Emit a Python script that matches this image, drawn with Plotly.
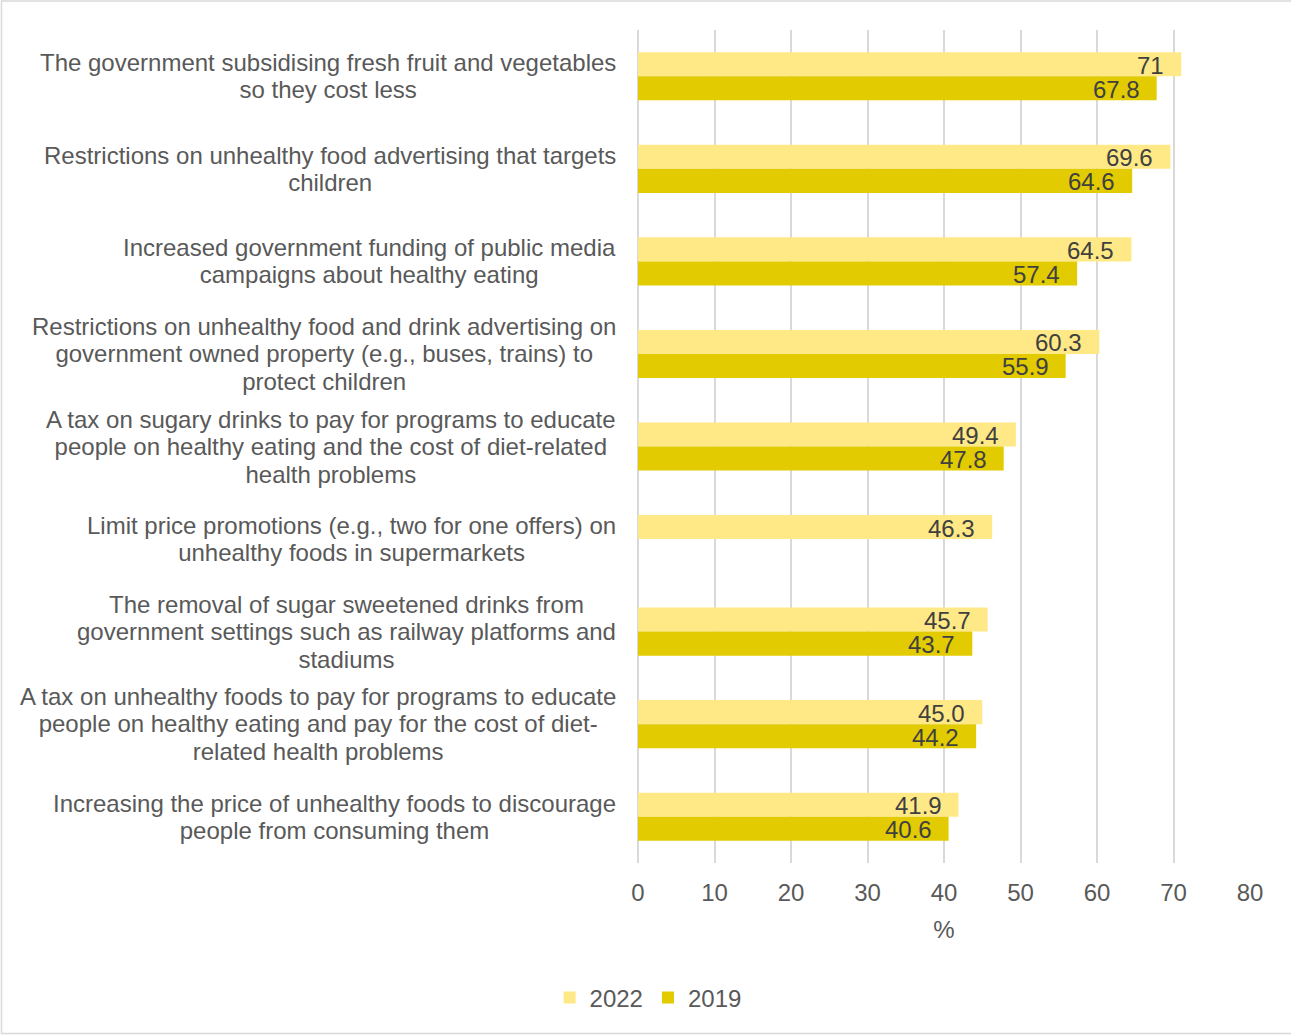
import plotly.graph_objects as go

# Policy statements (top to bottom) and their display versions split into lines
categories = [
    "The government subsidising fresh fruit and vegetables so they cost less",
    "Restrictions on unhealthy food advertising that targets children",
    "Increased government funding of public media campaigns about healthy eating",
    "Restrictions on unhealthy food and drink advertising on government owned property (e.g., buses, trains) to protect children",
    "A tax on sugary drinks to pay for programs to educate people on healthy eating and the cost of diet-related health problems",
    "Limit price promotions (e.g., two for one offers) on unhealthy foods in supermarkets",
    "The removal of sugar sweetened drinks from government settings such as railway platforms and stadiums",
    "A tax on unhealthy foods to pay for programs to educate people on healthy eating and pay for the cost of diet-related health problems",
    "Increasing the price of unhealthy foods to discourage people from consuming them",
]
category_lines = [
    ["The government subsidising fresh fruit and vegetables", "so they cost less"],
    ["Restrictions on unhealthy food advertising that targets", "children"],
    ["Increased government funding of public media", "campaigns about healthy eating"],
    ["Restrictions on unhealthy food and drink advertising on",
     "government owned property (e.g., buses, trains) to", "protect children"],
    ["A tax on sugary drinks to pay for programs to educate",
     "people on healthy eating and the cost of diet-related", "health problems"],
    ["Limit price promotions (e.g., two for one offers) on", "unhealthy foods in supermarkets"],
    ["The removal of sugar sweetened drinks from",
     "government settings such as railway platforms and", "stadiums"],
    ["A tax on unhealthy foods to pay for programs to educate",
     "people on healthy eating and pay for the cost of diet-", "related health problems"],
    ["Increasing the price of unhealthy foods to discourage", "people from consuming them"],
]

values_2022 = [71, 69.6, 64.5, 60.3, 49.4, 46.3, 45.7, 45.0, 41.9]
labels_2022 = ["71", "69.6", "64.5", "60.3", "49.4", "46.3", "45.7", "45.0", "41.9"]
values_2019 = [67.8, 64.6, 57.4, 55.9, 47.8, None, 43.7, 44.2, 40.6]
labels_2019 = ["67.8", "64.6", "57.4", "55.9", "47.8", None, "43.7", "44.2", "40.6"]

x_ticks = [0, 10, 20, 30, 40, 50, 60, 70, 80]

FONT = "Arial, Liberation Sans, sans-serif"
FS = 24
COLOR_2022 = "#FFE986"
COLOR_2019 = "#E2CB00"
TEXT_GREY = "#595959"
LABEL_DARK = "#404040"

fig = go.Figure()
fig.add_trace(go.Bar(
    name="2022", y=categories, x=values_2022, orientation="h",
    marker=dict(color=COLOR_2022, line=dict(width=0)),
))
fig.add_trace(go.Bar(
    name="2019", y=categories, x=values_2019, orientation="h",
    marker=dict(color=COLOR_2019, line=dict(width=0)),
))

annotations = []
# Value labels at the inner end of each bar
for cat, v, t in zip(categories, values_2022, labels_2022):
    annotations.append(dict(x=v, y=cat, xref="x", yref="y", text=t, showarrow=False,
                            xanchor="right", yanchor="middle", xshift=-15, yshift=11,
                            font=dict(family=FONT, size=FS, color=LABEL_DARK)))
for cat, v, t in zip(categories, values_2019, labels_2019):
    if v is None:
        continue
    annotations.append(dict(x=v, y=cat, xref="x", yref="y", text=t, showarrow=False,
                            xanchor="right", yanchor="middle", xshift=-15, yshift=-13,
                            font=dict(family=FONT, size=FS, color=LABEL_DARK)))

# Category labels: large glyphs on a tighter line pitch (base size sets the spacing)
for cat, lines in zip(categories, category_lines):
    text = "<br>".join(f"<span style='font-size:{FS}px'>{ln}</span>" for ln in lines)
    annotations.append(dict(x=0, y=cat, xref="paper", yref="y", text=text, showarrow=False,
                            xanchor="right", yanchor="middle", align="center", xshift=-20,
                            font=dict(family=FONT, size=21, color=TEXT_GREY)))

# Plot area geometry in pixels (for the outer frame)
W, H = 1291, 1035
ML, MR, MT, MB = 638, 41, 30, 172
pw, ph = W - ML - MR, H - MT - MB


def px_x(px):
    return (px - ML) / pw


def px_y(py):
    return (H - MB - py) / ph


fig.update_layout(
    width=W, height=H,
    margin=dict(l=ML, r=MR, t=MT, b=MB),
    paper_bgcolor="white", plot_bgcolor="white",
    barmode="group", bargap=0.48, bargroupgap=0,
    font=dict(family=FONT, size=FS, color=TEXT_GREY),
    xaxis=dict(
        range=[0, 80], tickvals=x_ticks, showgrid=True, gridcolor="#D9D9D9", gridwidth=2,
        zeroline=True, zerolinecolor="#D9D9D9", zerolinewidth=2, showline=False,
        ticks="outside", ticklen=8, tickcolor="rgba(0,0,0,0)",
        tickfont=dict(family=FONT, size=FS, color=TEXT_GREY),
        title=dict(text="%", font=dict(family=FONT, size=FS, color=TEXT_GREY), standoff=16),
        fixedrange=True,
    ),
    yaxis=dict(
        autorange="reversed", showticklabels=False, showgrid=False, zeroline=False,
        showline=False, fixedrange=True,
    ),
    legend=dict(
        orientation="h", xref="container", yref="container", x=0.502, y=1 - 998 / H,
        xanchor="center", yanchor="middle",
        font=dict(family=FONT, size=FS, color=TEXT_GREY),
        itemwidth=30, tracegroupgap=0,
    ),
    annotations=annotations,
    shapes=[dict(type="rect", xref="paper", yref="paper",
                 x0=px_x(1.5), x1=px_x(1292), y0=px_y(1033.5), y1=px_y(1),
                 line=dict(color="#D9D9D9", width=1.5), fillcolor="rgba(0,0,0,0)", layer="below")],
)

fig.write_html("out.html")
